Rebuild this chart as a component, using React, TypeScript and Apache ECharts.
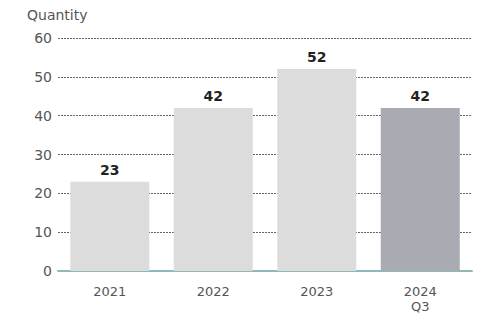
import React, { useEffect, useRef } from "react";
import * as echarts from "echarts";

const categories = ["2021", "2022", "2023", "2024\nQ3"];
const quantities = [23, 42, 52, 42];
const yTicks = [0, 10, 20, 30, 40, 50, 60];

const FONT = "DejaVu Sans";

export default function App() {
  const ref = useRef<HTMLDivElement>(null);

  useEffect(() => {
    if (!ref.current) return;
    const chart = echarts.init(ref.current, undefined, { renderer: "svg" });
    const last = quantities.length - 1;
    chart.setOption({
      animation: false,
      backgroundColor: "#ffffff",
      grid: { left: 58, right: 9, top: 38, bottom: 50, containLabel: false },
      graphic: [
        {
          type: "text",
          left: 27,
          top: 8,
          style: { text: "Quantity", font: `14px "${FONT}"`, fill: "#555" },
        },
      ],
      xAxis: {
        type: "category",
        data: categories,
        axisTick: { show: false },
        axisLine: { show: true, lineStyle: { color: "#8fb8b8", width: 2 } },
        axisLabel: {
          color: "#555",
          fontFamily: FONT,
          fontSize: 13,
          lineHeight: 15,
          margin: 13,
        },
      },
      yAxis: {
        type: "value",
        min: yTicks[0],
        max: yTicks[yTicks.length - 1],
        interval: 10,
        axisLine: { show: false },
        axisTick: { show: false },
        axisLabel: { color: "#555", fontFamily: FONT, fontSize: 14, margin: 6 },
        splitLine: {
          show: true,
          lineStyle: { color: "#666", width: 1, type: [2, 1] },
        },
      },
      series: [
        {
          type: "bar",
          data: quantities.map((v, i) => ({
            value: v,
            itemStyle: { color: i === last ? "#a9aab2" : "#dcdcdc" },
          })),
          barWidth: 79,
          z: 3,
          label: {
            show: true,
            position: "top",
            distance: 5,
            color: "#222",
            fontFamily: FONT,
            fontWeight: "bold",
            fontSize: 14,
          },
        },
      ],
    });
    return () => chart.dispose();
  }, []);

  return <div ref={ref} style={{ width: 481, height: 321, margin: -8 }} />;
}
